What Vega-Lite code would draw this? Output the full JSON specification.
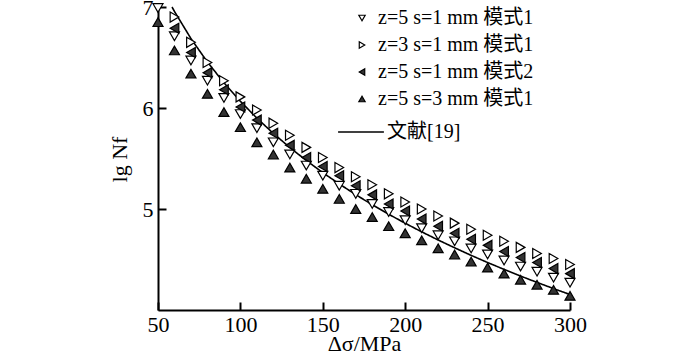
{
  "$schema": "https://vega.github.io/schema/vega-lite/v6.json",
  "width": 412,
  "height": 303,
  "autosize": {"type": "none"},
  "padding": {"left": 158, "top": 7, "right": 130, "bottom": 47},
  "background": "white",
  "config": {
    "view": {"stroke": null},
    "font": "'Liberation Serif', 'Times New Roman', 'Noto Sans CJK SC', serif",
    "axis": {"grid": false, "domainColor": "black", "domainWidth": 2, "tickColor": "black", "tickWidth": 2, "tickSize": -8, "labelFont": "'Liberation Serif', 'Times New Roman', serif", "labelFontSize": 22, "labelColor": "black", "titleFont": "'Liberation Serif', 'Times New Roman', serif", "titleFontSize": 22, "titleFontWeight": "normal", "titleColor": "black"},
    "legend": {"labelFont": "'Liberation Serif', 'Times New Roman', 'Noto Sans CJK SC', serif", "labelFontSize": 20, "labelColor": "black", "padding": 0, "symbolStrokeColor": "black"}
  },
  "datasets": {
    "pts": [
      {"series": "z=5 s=1 mm 模式1", "x": 50, "y": 6.99}, {"series": "z=5 s=1 mm 模式1", "x": 60, "y": 6.71}, {"series": "z=5 s=1 mm 模式1", "x": 70, "y": 6.47}, {"series": "z=5 s=1 mm 模式1", "x": 80, "y": 6.27}, {"series": "z=5 s=1 mm 模式1", "x": 90, "y": 6.10}, {"series": "z=5 s=1 mm 模式1", "x": 100, "y": 5.94}, {"series": "z=5 s=1 mm 模式1", "x": 110, "y": 5.80}, {"series": "z=5 s=1 mm 模式1", "x": 120, "y": 5.66}, {"series": "z=5 s=1 mm 模式1", "x": 130, "y": 5.54}, {"series": "z=5 s=1 mm 模式1", "x": 140, "y": 5.43}, {"series": "z=5 s=1 mm 模式1", "x": 150, "y": 5.33}, {"series": "z=5 s=1 mm 模式1", "x": 160, "y": 5.23}, {"series": "z=5 s=1 mm 模式1", "x": 170, "y": 5.15}, {"series": "z=5 s=1 mm 模式1", "x": 180, "y": 5.05}, {"series": "z=5 s=1 mm 模式1", "x": 190, "y": 4.97}, {"series": "z=5 s=1 mm 模式1", "x": 200, "y": 4.89}, {"series": "z=5 s=1 mm 模式1", "x": 210, "y": 4.81}, {"series": "z=5 s=1 mm 模式1", "x": 220, "y": 4.74}, {"series": "z=5 s=1 mm 模式1", "x": 230, "y": 4.68}, {"series": "z=5 s=1 mm 模式1", "x": 240, "y": 4.61}, {"series": "z=5 s=1 mm 模式1", "x": 250, "y": 4.55}, {"series": "z=5 s=1 mm 模式1", "x": 260, "y": 4.49}, {"series": "z=5 s=1 mm 模式1", "x": 270, "y": 4.43}, {"series": "z=5 s=1 mm 模式1", "x": 280, "y": 4.38}, {"series": "z=5 s=1 mm 模式1", "x": 290, "y": 4.32}, {"series": "z=5 s=1 mm 模式1", "x": 300, "y": 4.27},
      {"series": "z=3 s=1 mm 模式1", "x": 60, "y": 6.90}, {"series": "z=3 s=1 mm 模式1", "x": 70, "y": 6.65}, {"series": "z=3 s=1 mm 模式1", "x": 80, "y": 6.45}, {"series": "z=3 s=1 mm 模式1", "x": 90, "y": 6.27}, {"series": "z=3 s=1 mm 模式1", "x": 100, "y": 6.11}, {"series": "z=3 s=1 mm 模式1", "x": 110, "y": 5.98}, {"series": "z=3 s=1 mm 模式1", "x": 120, "y": 5.85}, {"series": "z=3 s=1 mm 模式1", "x": 130, "y": 5.73}, {"series": "z=3 s=1 mm 模式1", "x": 140, "y": 5.61}, {"series": "z=3 s=1 mm 模式1", "x": 150, "y": 5.51}, {"series": "z=3 s=1 mm 模式1", "x": 160, "y": 5.41}, {"series": "z=3 s=1 mm 模式1", "x": 170, "y": 5.32}, {"series": "z=3 s=1 mm 模式1", "x": 180, "y": 5.24}, {"series": "z=3 s=1 mm 模式1", "x": 190, "y": 5.15}, {"series": "z=3 s=1 mm 模式1", "x": 200, "y": 5.07}, {"series": "z=3 s=1 mm 模式1", "x": 210, "y": 5.00}, {"series": "z=3 s=1 mm 模式1", "x": 220, "y": 4.93}, {"series": "z=3 s=1 mm 模式1", "x": 230, "y": 4.86}, {"series": "z=3 s=1 mm 模式1", "x": 240, "y": 4.80}, {"series": "z=3 s=1 mm 模式1", "x": 250, "y": 4.74}, {"series": "z=3 s=1 mm 模式1", "x": 260, "y": 4.68}, {"series": "z=3 s=1 mm 模式1", "x": 270, "y": 4.62}, {"series": "z=3 s=1 mm 模式1", "x": 280, "y": 4.56}, {"series": "z=3 s=1 mm 模式1", "x": 290, "y": 4.51}, {"series": "z=3 s=1 mm 模式1", "x": 300, "y": 4.45},
      {"series": "z=5 s=1 mm 模式2", "x": 60, "y": 6.79}, {"series": "z=5 s=1 mm 模式2", "x": 70, "y": 6.55}, {"series": "z=5 s=1 mm 模式2", "x": 80, "y": 6.35}, {"series": "z=5 s=1 mm 模式2", "x": 90, "y": 6.18}, {"series": "z=5 s=1 mm 模式2", "x": 100, "y": 6.01}, {"series": "z=5 s=1 mm 模式2", "x": 110, "y": 5.88}, {"series": "z=5 s=1 mm 模式2", "x": 120, "y": 5.75}, {"series": "z=5 s=1 mm 模式2", "x": 130, "y": 5.63}, {"series": "z=5 s=1 mm 模式2", "x": 140, "y": 5.51}, {"series": "z=5 s=1 mm 模式2", "x": 150, "y": 5.42}, {"series": "z=5 s=1 mm 模式2", "x": 160, "y": 5.33}, {"series": "z=5 s=1 mm 模式2", "x": 170, "y": 5.23}, {"series": "z=5 s=1 mm 模式2", "x": 180, "y": 5.14}, {"series": "z=5 s=1 mm 模式2", "x": 190, "y": 5.05}, {"series": "z=5 s=1 mm 模式2", "x": 200, "y": 4.98}, {"series": "z=5 s=1 mm 模式2", "x": 210, "y": 4.90}, {"series": "z=5 s=1 mm 模式2", "x": 220, "y": 4.83}, {"series": "z=5 s=1 mm 模式2", "x": 230, "y": 4.76}, {"series": "z=5 s=1 mm 模式2", "x": 240, "y": 4.70}, {"series": "z=5 s=1 mm 模式2", "x": 250, "y": 4.64}, {"series": "z=5 s=1 mm 模式2", "x": 260, "y": 4.58}, {"series": "z=5 s=1 mm 模式2", "x": 270, "y": 4.52}, {"series": "z=5 s=1 mm 模式2", "x": 280, "y": 4.47}, {"series": "z=5 s=1 mm 模式2", "x": 290, "y": 4.41}, {"series": "z=5 s=1 mm 模式2", "x": 300, "y": 4.36},
      {"series": "z=5 s=3 mm 模式1", "x": 50, "y": 6.85}, {"series": "z=5 s=3 mm 模式1", "x": 60, "y": 6.57}, {"series": "z=5 s=3 mm 模式1", "x": 70, "y": 6.34}, {"series": "z=5 s=3 mm 模式1", "x": 80, "y": 6.14}, {"series": "z=5 s=3 mm 模式1", "x": 90, "y": 5.96}, {"series": "z=5 s=3 mm 模式1", "x": 100, "y": 5.81}, {"series": "z=5 s=3 mm 模式1", "x": 110, "y": 5.66}, {"series": "z=5 s=3 mm 模式1", "x": 120, "y": 5.54}, {"series": "z=5 s=3 mm 模式1", "x": 130, "y": 5.41}, {"series": "z=5 s=3 mm 模式1", "x": 140, "y": 5.30}, {"series": "z=5 s=3 mm 模式1", "x": 150, "y": 5.20}, {"series": "z=5 s=3 mm 模式1", "x": 160, "y": 5.10}, {"series": "z=5 s=3 mm 模式1", "x": 170, "y": 5.00}, {"series": "z=5 s=3 mm 模式1", "x": 180, "y": 4.92}, {"series": "z=5 s=3 mm 模式1", "x": 190, "y": 4.83}, {"series": "z=5 s=3 mm 模式1", "x": 200, "y": 4.76}, {"series": "z=5 s=3 mm 模式1", "x": 210, "y": 4.69}, {"series": "z=5 s=3 mm 模式1", "x": 220, "y": 4.61}, {"series": "z=5 s=3 mm 模式1", "x": 230, "y": 4.55}, {"series": "z=5 s=3 mm 模式1", "x": 240, "y": 4.48}, {"series": "z=5 s=3 mm 模式1", "x": 250, "y": 4.42}, {"series": "z=5 s=3 mm 模式1", "x": 260, "y": 4.36}, {"series": "z=5 s=3 mm 模式1", "x": 270, "y": 4.30}, {"series": "z=5 s=3 mm 模式1", "x": 280, "y": 4.25}, {"series": "z=5 s=3 mm 模式1", "x": 290, "y": 4.20}, {"series": "z=5 s=3 mm 模式1", "x": 300, "y": 4.14}
    ],
    "lit": [
      {"src": "文献[19]", "x": 58.5, "y": 7.0}, {"src": "文献[19]", "x": 60, "y": 6.956}, {"src": "文献[19]", "x": 70, "y": 6.687}, {"src": "文献[19]", "x": 80, "y": 6.455}, {"src": "文献[19]", "x": 90, "y": 6.25}, {"src": "文献[19]", "x": 100, "y": 6.066}, {"src": "文献[19]", "x": 110, "y": 5.9}, {"src": "文献[19]", "x": 120, "y": 5.748}, {"src": "文献[19]", "x": 130, "y": 5.609}, {"src": "文献[19]", "x": 140, "y": 5.48}, {"src": "文献[19]", "x": 150, "y": 5.36}, {"src": "文献[19]", "x": 160, "y": 5.248}, {"src": "文献[19]", "x": 170, "y": 5.142}, {"src": "文献[19]", "x": 180, "y": 5.042}, {"src": "文献[19]", "x": 190, "y": 4.948}, {"src": "文献[19]", "x": 200, "y": 4.859}, {"src": "文献[19]", "x": 210, "y": 4.774}, {"src": "文献[19]", "x": 220, "y": 4.693}, {"src": "文献[19]", "x": 230, "y": 4.616}, {"src": "文献[19]", "x": 240, "y": 4.541}, {"src": "文献[19]", "x": 250, "y": 4.47}, {"src": "文献[19]", "x": 260, "y": 4.402}, {"src": "文献[19]", "x": 270, "y": 4.336}, {"src": "文献[19]", "x": 280, "y": 4.273}, {"src": "文献[19]", "x": 290, "y": 4.212}, {"src": "文献[19]", "x": 300, "y": 4.153}
    ]
  },
  "layer": [
    {
      "data": {"name": "lit"},
      "mark": {"type": "line", "strokeWidth": 1.6, "stroke": "black", "clip": false},
      "encoding": {
        "x": {"field": "x", "type": "quantitative", "scale": {"domain": [50, 300], "nice": false}, "axis": {"values": [50, 100, 150, 200, 250, 300], "format": "d", "title": "Δσ/MPa", "labelPadding": 12, "titlePadding": -2, "labelFlush": false}},
        "y": {"field": "y", "type": "quantitative", "scale": {"domain": [4, 7], "nice": false, "zero": false}, "axis": {"values": [5, 6, 7], "format": "d", "title": "lg Nf", "labelPadding": 13, "titleX": -27, "titleY": 152, "labelFlush": false}},
        "strokeDash": {"field": "src", "type": "nominal", "scale": {"range": [[1, 0]]}, "legend": {"title": null, "orient": "none", "legendX": 179, "legendY": 101, "symbolType": "stroke", "symbolSize": 2100, "symbolStrokeWidth": 1.6, "symbolStrokeColor": "black", "labelOffset": 2}}
      }
    },
    {
      "data": {"name": "pts"},
      "mark": {"type": "point", "size": 100, "strokeWidth": 1.2, "opacity": 1, "filled": true, "clip": false},
      "encoding": {
        "x": {"field": "x", "type": "quantitative"},
        "y": {"field": "y", "type": "quantitative"},
        "stroke": {"field": "series", "type": "nominal", "scale": {"domain": ["z=5 s=1 mm 模式1", "z=3 s=1 mm 模式1", "z=5 s=1 mm 模式2", "z=5 s=3 mm 模式1"], "range": ["black", "black", "black", "black"]}, "legend": {"title": null, "orient": "none", "legendX": 194, "legendY": 1, "symbolSize": 40, "symbolStrokeWidth": 1.2, "rowPadding": 7, "labelOffset": 6}},
        "shape": {"field": "series", "type": "nominal", "scale": {"domain": ["z=5 s=1 mm 模式1", "z=3 s=1 mm 模式1", "z=5 s=1 mm 模式2", "z=5 s=3 mm 模式1"], "range": ["triangle-down", "triangle-right", "triangle-left", "triangle-up"]}, "legend": {"title": null, "orient": "none", "legendX": 194, "legendY": 1, "symbolSize": 40, "symbolStrokeWidth": 1.2, "rowPadding": 7, "labelOffset": 6}},
        "fill": {"field": "series", "type": "nominal", "scale": {"domain": ["z=5 s=1 mm 模式1", "z=3 s=1 mm 模式1", "z=5 s=1 mm 模式2", "z=5 s=3 mm 模式1"], "range": ["white", "white", "#333333", "#333333"]}, "legend": {"title": null, "orient": "none", "legendX": 194, "legendY": 1, "symbolSize": 40, "symbolStrokeWidth": 1.2, "rowPadding": 7, "labelOffset": 6}}
      }
    }
  ]
}
